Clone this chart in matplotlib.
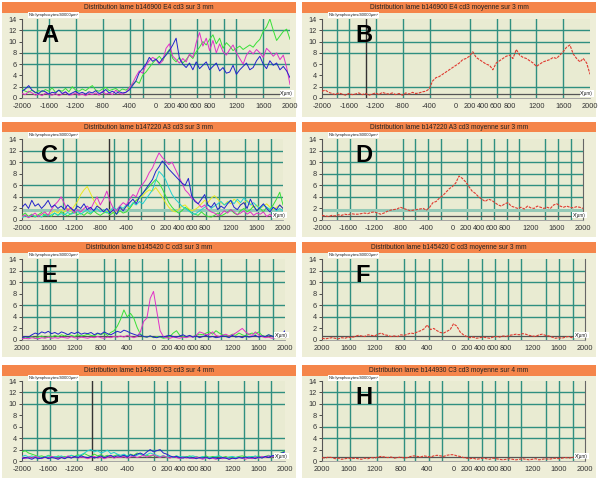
import numpy as np
import matplotlib
matplotlib.use("Agg")
import matplotlib.pyplot as plt
import matplotlib.transforms as mtransforms
from matplotlib.patches import Rectangle

plt.rcParams['font.family'] = ['Liberation Sans', 'DejaVu Sans']

W, H = 600, 478

#### Panel texts ####
titles = ["Distribution lame b146900 E4 cd3 sur 3 mm",
          "Distribution lame b146900 E4 cd3 moyenne sur 3 mm",
          "Distribution lame b147220 A3 cd3 sur 3 mm",
          "Distribution lame b147220 A3 cd3 moyenne sur 3 mm",
          "Distribution lame b145420 C cd3 sur 3 mm",
          "Distribution lame b145420 C cd3 moyenne sur 3 mm",
          "Distribution lame b144930 C3 cd3 sur 4 mm",
          "Distribution lame b144930 C3 cd3 moyenne sur 4 mm"]
letters = ["A", "B", "C", "D", "E", "F", "G", "H"]
ylab = "Nb lymphocytes/40000µm²"
xlab = "X(µm)"

xtick_vals = [-2000, -1600, -1200, -800, -400, 0, 200, 400, 600, 800, 1200, 1600, 2000]
xtick_neg = ["-2000", "-1600", "-1200", "-800", "-400", "0", "200", "400", "600", "800", "1200", "1600", "2000"]
xtick_pos = ["2000", "1600", "1200", "800", "400", "0", "200", "400", "600", "800", "1200", "1600", "2000"]
ytick_vals = [0, 2, 4, 6, 8, 10, 12, 14]

#### Series (sampled every 50 µm from -2000 to 2000) ####
A_blue = [1.2,1.6,2.2,1.4,1.0,0.8,1.3,1.1,0.7,1.0,
          0.9,1.4,0.8,1.1,0.6,0.9,1.2,0.8,1.0,0.7,
          1.1,0.9,1.3,0.8,1.0,1.5,0.9,1.2,0.8,1.1,
          0.9,1.0,1.4,2.2,3.0,4.5,5.2,6.0,7.2,6.5,
          6.9,6.2,7.0,7.6,8.4,9.4,10.6,7.0,6.0,5.4,
          6.2,5.0,6.4,5.2,5.8,6.4,5.0,5.6,6.2,4.8,
          5.4,4.4,4.6,5.8,4.2,5.0,5.6,6.2,5.0,5.4,
          6.6,7.4,6.0,5.2,6.6,5.8,6.2,5.0,5.6,4.8,3.6]
A_mag = [0.8,0.6,1.2,0.9,0.5,0.7,0.4,0.9,0.6,0.5,
         0.8,0.4,0.7,1.0,0.5,0.6,0.9,0.5,0.7,0.4,
         0.8,0.6,0.9,0.5,1.2,0.7,0.9,0.6,1.4,0.8,
         0.7,1.0,1.8,2.6,3.8,4.8,4.4,5.8,6.6,7.2,
         6.8,6.0,6.6,8.8,9.6,7.4,6.8,6.2,7.0,6.4,
         7.8,7.2,9.8,11.6,9.2,10.6,8.4,10.2,8.0,9.6,
         8.2,7.6,8.6,9.4,8.0,7.0,6.0,7.6,8.4,7.8,
         8.6,8.0,7.2,8.8,8.2,7.4,8.0,6.8,7.6,5.4,2.4]
A_green = [1.6,1.2,1.0,1.4,0.9,1.3,1.1,1.5,1.2,1.8,
           1.0,1.4,1.2,1.7,1.1,2.0,1.4,1.2,1.6,1.3,
           1.8,2.2,1.4,1.2,1.6,1.9,1.3,1.5,1.7,1.2,
           1.6,1.4,1.8,2.4,3.0,2.6,4.0,4.6,5.4,6.2,
           6.8,7.4,6.6,7.8,8.6,7.0,6.4,7.2,6.2,6.8,
           7.6,7.0,8.2,9.0,10.0,9.4,10.4,11.2,9.6,10.6,
           8.8,9.8,9.2,8.4,8.8,9.2,8.6,9.0,9.4,9.0,
           9.8,10.4,11.8,12.6,14.0,12.0,10.2,11.0,11.8,12.2,10.4]

B_red = [1.2,1.4,1.0,0.8,0.6,0.9,0.7,0.5,0.8,0.6,
         0.7,0.9,0.6,0.8,0.5,0.7,0.9,0.6,1.0,0.8,
         0.7,0.9,0.6,0.8,0.5,0.9,0.7,1.0,0.8,0.9,
         1.1,1.2,1.6,3.0,3.6,3.8,4.2,4.6,5.0,5.4,
         5.8,6.2,6.8,7.0,7.4,8.2,7.2,6.8,6.4,6.0,
         5.8,5.0,6.2,6.6,7.0,7.4,7.6,7.0,8.6,7.6,
         7.2,7.0,6.6,6.2,5.6,6.0,6.4,6.6,6.8,7.2,
         7.0,7.6,8.2,9.0,9.4,7.8,7.0,6.4,7.0,6.2,4.2]

C_blue = [2.2,2.8,2.0,3.4,2.4,2.8,2.0,2.6,3.4,2.2,2.6,2.0,2.4,
          1.8,2.6,2.0,1.6,2.4,2.0,2.8,1.8,2.2,1.6,2.4,2.0,
          1.4,2.0,1.2,1.8,1.0,2.2,1.6,2.4,3.0,3.6,2.8,
          4.0,4.6,5.4,6.2,7.0,8.4,9.2,10.2,9.6,8.8,
          8.2,7.6,7.0,6.4,6.0,7.2,4.2,
          3.2,2.8,3.6,4.4,2.6,2.2,3.0,1.8,2.4,2.0,2.8,3.4,2.2,1.8,
          2.6,3.0,2.0,3.6,2.4,1.6,2.2,2.8,2.0,1.4,2.2,1.8,2.6,2.0]
C_mag = [0.6,0.9,0.4,0.8,1.2,0.6,1.0,1.4,0.8,1.8,2.6,3.2,
         4.0,2.8,1.6,2.2,1.2,1.8,1.4,2.0,2.4,
         1.8,3.0,4.0,2.6,3.6,5.0,3.2,2.0,1.6,
         2.4,3.0,2.6,3.6,4.4,4.0,5.4,6.2,7.0,8.2,9.0,
         10.4,11.6,10.8,10.2,9.6,10.0,8.8,7.6,6.4,5.2,
         4.6,3.8,3.4,2.8,2.2,2.6,1.8,1.4,1.2,0.8,1.0,1.6,1.2,1.8,1.4,
         0.9,1.2,1.6,1.0,1.4,0.8,1.2,1.0,1.4,0.6,1.0,0.4,0.8,1.2,0.8]
C_green = [0.8,1.2,0.6,1.0,0.5,0.9,1.3,0.7,1.0,0.6,1.2,0.8,1.4,1.0,0.7,1.1,
           1.5,0.9,1.2,0.8,1.3,1.0,1.6,1.1,0.8,1.2,1.4,0.9,1.3,1.0,1.6,1.2,
           1.4,2.0,2.8,3.4,3.8,4.6,5.2,5.8,6.4,
           7.0,6.4,5.4,4.2,3.0,2.2,1.6,1.2,
           1.6,2.2,1.8,1.2,1.0,0.8,1.4,0.9,0.6,0.5,0.8,1.2,0.7,1.0,1.4,1.8,
           1.2,0.9,1.6,2.0,1.4,1.8,2.4,1.6,2.0,1.4,2.2,1.8,2.6,3.6,4.8,2.6]
C_yellow = [0.5,0.8,0.6,1.0,0.7,0.9,0.6,1.1,0.8,1.2,1.6,1.2,1.8,1.4,2.0,1.6,
            2.4,3.2,4.4,5.2,5.8,4.6,3.4,2.6,
            2.0,1.6,1.4,1.8,1.2,1.6,2.2,1.8,2.4,2.0,2.8,3.4,
            3.8,4.2,4.8,5.2,5.0,5.6,4.8,4.0,3.0,
            2.2,1.6,1.4,1.8,2.4,2.6,2.0,1.6,1.8,2.2,2.8,3.4,3.0,3.8,4.2,3.6,3.0,2.6,
            3.2,2.8,3.6,3.2,2.6,3.0,3.4,2.8,2.2,2.6,2.0,2.4,2.8,2.2,1.8,2.2,2.6,2.0]
C_cyan = [0.4,0.7,0.5,0.9,0.6,0.8,0.5,1.0,0.7,0.9,1.2,0.8,1.1,0.9,1.3,1.0,
          1.2,1.6,1.0,1.4,1.8,1.2,1.6,2.0,1.4,1.8,1.2,1.6,2.2,1.8,2.4,2.0,
          2.6,2.2,3.0,2.6,3.2,2.8,3.6,4.4,5.2,
          6.8,8.4,7.8,7.0,5.6,4.4,3.6,3.0,
          2.4,2.0,1.6,1.2,1.0,1.4,1.8,2.2,2.6,2.0,2.4,2.8,3.2,2.6,3.0,3.4,
          2.8,3.6,3.0,3.8,3.2,2.6,3.0,2.4,2.0,2.6,2.2,1.8,2.2,1.6,2.0,1.6]

D_red = [0.8,0.7,0.6,0.8,0.7,0.9,0.8,1.0,0.9,1.1,
         1.0,1.0,1.1,1.2,1.1,1.3,1.4,1.2,1.0,1.2,
         1.5,1.7,1.8,1.9,2.2,2.0,1.8,1.6,1.7,1.8,
         1.9,2.0,1.7,2.2,3.0,3.2,3.8,4.2,4.8,5.4,
         5.8,6.4,7.6,7.2,6.6,5.8,5.0,4.6,4.0,3.6,
         3.2,3.6,3.4,3.0,2.6,2.4,2.8,3.0,2.4,2.2,
         2.0,2.2,1.9,2.4,2.1,2.0,2.4,2.2,2.0,2.2,
         2.0,2.6,2.8,2.4,2.2,2.4,2.2,2.1,2.3,2.2,2.0]

E_blue = [0.4,0.6,0.5,0.9,1.2,1.0,1.4,1.2,1.5,1.1,
          1.3,1.0,1.4,1.2,0.9,1.3,1.1,1.4,1.0,1.2,
          1.1,1.3,0.9,1.2,1.0,1.4,1.1,0.9,1.2,1.5,
          1.3,1.7,1.5,1.2,1.0,0.8,0.9,0.6,0.5,0.7,
          0.5,0.4,0.6,0.5,0.7,0.8,0.6,0.5,0.7,0.9,
          0.6,0.8,0.5,0.7,0.4,0.6,0.8,0.5,0.6,0.4,
          0.5,0.7,0.6,0.4,0.8,0.5,0.6,0.4,0.7,0.5,
          0.6,0.8,0.5,0.7,0.6,0.9,0.7,0.5,0.8,1.0,1.6]
E_green = [0.3,0.5,0.4,0.6,0.3,0.5,0.7,0.4,0.6,0.5,
           0.8,0.6,0.9,0.7,1.0,0.8,0.6,0.9,0.7,0.8,
           1.0,0.8,0.7,1.1,0.9,1.2,0.8,1.3,1.6,2.4,
           3.6,5.2,4.0,4.6,3.8,2.2,1.0,0.6,0.5,0.7,
           0.4,0.6,0.5,0.3,0.4,0.6,1.2,1.6,0.8,0.6,
           0.5,0.7,0.6,0.8,1.0,0.9,1.2,1.4,1.0,1.6,
           1.2,0.9,0.8,0.7,1.0,0.8,1.2,0.9,0.7,1.0,
           1.2,1.0,1.4,0.8,0.6,0.9,0.7,0.5,0.6,0.4,0.5]
E_mag = [0.2,0.3,0.2,0.4,0.3,0.2,0.4,0.3,0.5,0.3,
         0.4,0.3,0.5,0.4,0.3,0.6,0.4,0.3,0.5,0.4,
         0.3,0.5,0.4,0.6,0.4,0.3,0.5,0.4,0.6,0.5,
         0.7,0.5,0.8,0.6,0.4,0.6,1.4,3.2,3.8,7.2,
         8.4,5.0,1.6,0.6,0.4,0.3,0.5,0.4,0.3,0.5,
         0.4,0.6,0.5,0.8,1.4,1.2,0.9,1.0,1.4,0.8,
         0.6,0.8,1.0,0.7,0.9,1.2,1.6,2.0,1.4,1.0,
         0.8,1.4,0.9,0.6,0.4,0.5,0.3,0.4,0.6,0.5,0.4]

F_red = [0.3,0.2,0.3,0.4,0.3,0.2,0.4,0.3,0.5,0.4,
         0.6,0.8,0.7,0.6,0.9,0.8,0.7,1.0,1.2,0.9,
         0.8,0.6,0.7,0.6,0.9,0.8,1.0,1.2,1.1,1.4,
         1.6,1.9,2.6,1.8,2.0,1.6,1.3,1.2,1.5,1.8,
         2.8,2.4,1.4,0.9,0.6,0.4,0.5,0.3,0.4,0.5,
         0.4,0.3,0.5,0.6,0.5,0.7,0.6,0.8,0.9,1.0,
         0.9,1.1,1.0,0.8,0.7,0.6,0.9,1.0,0.8,0.7,
         0.5,0.3,0.4,0.3,0.5,0.6,0.4,0.5,0.7,0.5,0.6]

G_green = [1.6,1.8,1.4,1.2,1.0,0.8,0.9,0.7,1.0,0.8,
           0.6,0.9,0.7,0.8,0.6,1.0,0.8,1.1,0.9,1.3,
           1.0,0.8,1.2,0.9,1.1,0.8,1.0,0.7,0.9,1.1,
           0.8,1.0,0.9,1.2,1.0,1.4,1.2,0.9,1.0,0.8,
           1.0,0.8,0.7,0.9,0.6,0.8,0.7,0.9,0.6,0.8,
           0.7,0.9,0.6,0.8,0.5,0.7,0.9,0.6,0.8,0.7,
           0.9,0.6,0.8,0.5,0.7,0.6,0.8,0.9,0.7,0.6,
           0.8,0.7,0.9,0.6,0.8,1.0,0.7,0.9,1.2,1.5,1.8]
G_cyan = [0.8,1.0,0.7,0.9,0.6,0.8,0.5,0.7,0.9,0.6,
          0.8,0.7,0.9,0.6,0.8,1.0,0.7,0.9,1.1,1.4,
          1.8,2.0,1.6,1.8,1.4,1.6,1.9,1.3,1.5,1.2,
          1.0,1.2,0.9,1.1,0.8,1.0,1.3,0.9,1.1,1.4,
          1.2,1.0,0.8,0.9,0.7,0.8,0.6,0.9,0.7,0.8,
          0.6,0.8,0.9,0.7,0.6,0.8,0.5,0.7,0.6,0.8,
          0.9,0.6,0.5,0.7,0.8,0.6,0.7,0.5,0.6,0.8,
          0.7,0.9,0.6,0.8,0.7,0.9,0.8,1.0,1.1,0.9,1.2]
G_blue = [0.4,0.6,0.5,0.3,0.6,0.4,0.5,0.7,0.4,0.6,
          0.5,0.3,0.6,0.4,0.7,0.5,0.8,0.6,0.9,0.7,
          0.6,0.8,0.5,0.7,0.9,0.6,0.8,1.0,0.7,0.9,
          0.8,1.0,0.7,1.1,0.9,1.2,1.4,1.1,1.6,2.0,
          1.6,1.8,2.0,1.4,1.2,0.9,0.7,0.8,0.6,0.5,
          0.7,0.5,0.6,0.4,0.6,0.5,0.7,0.4,0.6,0.5,
          0.4,0.6,0.5,0.3,0.5,0.4,0.6,0.5,0.7,0.5,
          0.6,0.4,0.7,0.5,0.8,0.6,0.9,1.0,1.2,1.4,1.6]
G_mag = [0.6,0.4,0.7,0.5,0.8,0.6,0.4,0.7,0.5,0.8,
         0.6,0.4,0.7,0.5,0.9,0.6,0.8,0.5,0.7,0.6,
         0.4,0.6,0.8,0.5,0.7,0.4,0.6,0.8,0.5,0.7,
         0.6,0.8,0.5,0.7,0.9,0.6,0.8,1.0,0.7,0.9,
         1.1,0.8,0.6,0.9,0.7,0.5,0.8,0.6,0.4,0.7,
         0.5,0.6,0.4,0.7,0.5,0.3,0.6,0.4,0.5,0.3,
         0.5,0.4,0.6,0.3,0.5,0.4,0.6,0.5,0.3,0.6,
         0.4,0.7,0.5,0.8,0.6,0.9,0.7,1.0,0.8,1.2,1.0]

H_red = [0.6,0.5,0.7,0.6,0.4,0.5,0.3,0.4,0.5,0.4,
         0.5,0.4,0.3,0.5,0.4,0.6,0.5,0.7,0.8,0.7,
         0.6,0.7,0.5,0.6,0.7,0.5,0.6,0.8,0.9,0.8,
         0.7,0.9,0.8,0.7,0.9,1.0,0.9,0.8,1.0,1.1,
         1.1,0.9,0.8,0.6,0.5,0.4,0.5,0.3,0.4,0.5,
         0.4,0.3,0.5,0.4,0.3,0.2,0.3,0.4,0.3,0.2,
         0.3,0.4,0.3,0.2,0.3,0.4,0.2,0.3,0.4,0.3,
         0.4,0.5,0.4,0.5,0.6,0.5,0.6,0.7,0.6,0.8,0.9]

#### Grid lines seen in each panel ####
vgrid_A = [-1780, -1590, -1190, -790, -390, -190, 210, 610, 810, 1010, 1200, 1600]
vgrid_B = [-1780, -1590, -1190, -790, -390, 210, 610, 810, 1200, 1600]
vgrid_C = [-1370, -1170, -590, -380, -180, 170, 410, 610, 820, 1020, 1410, 1610, 1820]
vgrid_D = [-1770, -1570, -1170, -760, -580, -380, -170, 220, 430, 630, 830, 1020, 1410, 1610, 1820]
vgrid_G = [-1770, -1570, -1170, -800, -390, 0, 200, 400, 780, 980, 1380, 1590, 1790]
hgrid_A = [2, 6, 8, 12]
hgrid_B = [2, 8, 10, 12]
hgrid_C = [4, 6, 10, 12]
hgrid_D = [4, 6, 8, 10, 12]
hgrid_E = [4, 6, 10, 12]
hgrid_G = [2, 4, 10, 12]

BLUE, MAG, GREEN, YEL, CYAN, RED = '#2222cc', '#e030c8', '#38e038', '#e8e820', '#20d0d0', '#e03a30'
TEAL = '#2f8f80'
ORANGE = '#f5854a'
BEIGE = '#eeeed8'
PLOTBG = '#e9ebd2'

fig = plt.figure(figsize=(6, 4.78), dpi=100)
fig.patch.set_facecolor('white')


def frect(x, y, w, h):
    return [x / W, 1 - (y + h) / H, w / W, h / H]


def add_rect(x, y, w, h, color):
    r = Rectangle((x / W, 1 - (y + h) / H), w / W, h / H, transform=fig.transFigure,
                  facecolor=color, edgecolor='none', zorder=0)
    fig.add_artist(r)


row_top = [0, 120, 240, 360]
plot_y = [(19, 98), (139, 220), (259, 340), (381, 461)]


def panel(k, series, colors, vgrid, hgrid, xlabels, axr, cursor=None, band=False, dashed=False, rspine=False):
    col, row = k % 2, k // 2
    px = 0 if col == 0 else 300
    ty = row_top[row] + (3 if row == 3 else 0)
    add_rect(px + 2, ty + 12, 294, 105, BEIGE)
    add_rect(px + 2, ty + 2, 294, 10.5, ORANGE)
    fig.text((px + 149) / W, 1 - (ty + 7.5) / H, titles[k], ha='center', va='center',
             fontsize=4.8, color='#222222')
    top, bot = plot_y[row]
    ax = fig.add_axes(frect(px + 22, top, axr - 22, bot - top))
    ax.set_facecolor(PLOTBG)
    ax.set_xlim(-2000, 2000)
    ax.set_ylim(0, 14)
    for v in vgrid:
        ax.axvline(v, color=TEAL, lw=1.0, zorder=1)
    for h in hgrid:
        ax.axhline(h, color=TEAL, lw=1.0, zorder=1)
    if band:
        ax.axhline(1.8, color='#93c9b6', lw=2.2, zorder=1)
    ax.axhline(0.75, color='#555555', lw=0.9, zorder=1)
    if cursor is not None:
        ax.axvline(cursor, color='#333333', lw=1.0, zorder=1)
    for y, c in zip(series, colors):
        x = np.linspace(-2000, 2000, len(y))
        if dashed:
            ax.plot(x, y, color=c, lw=0.8, ls=(0, (2.5, 1)), zorder=3)
        else:
            ax.plot(x, y, color=c, lw=0.7, zorder=3)
    ax.set_xticks(xtick_vals)
    ax.set_xticklabels(xlabels)
    ax.set_yticks(ytick_vals)
    ax.tick_params(axis='x', length=0, pad=3.5, labelsize=5.3, colors='#333333')
    ax.tick_params(axis='y', length=2.5, width=0.6, pad=1, labelsize=5.3, colors='#333333')
    for s in ['top', 'right']:
        ax.spines[s].set_visible(False)
    if rspine:
        ax.spines['right'].set_visible(True)
        ax.spines['right'].set_color('#666666')
    ax.spines['left'].set_color('#555555')
    ax.spines['bottom'].set_color('#999999')
    ax.spines['left'].set_linewidth(0.8)
    ax.spines['bottom'].set_linewidth(0.6)
    # small white label boxes
    fig.text((px + 29) / W, 1 - (ty + 15) / H, ylab, ha='left', va='center', fontsize=3.0,
             color='#222222', bbox=dict(facecolor='white', edgecolor='none', pad=0.6))
    trans = mtransforms.blended_transform_factory(ax.transAxes, ax.transData)
    ax.text(1.012, 0.85, xlab, transform=trans, ha='right', va='center', fontsize=3.3,
            color='#222222', clip_on=False, zorder=5,
            bbox=dict(facecolor='white', edgecolor='none', pad=0.6))
    lx = 41 if col == 0 else 55
    fig.text((px + lx) / W, 1 - (ty + 35) / H, letters[k], ha='left', va='center',
             fontsize=17, fontweight='bold', color='black')
    return ax


panel(0, [A_green, A_mag, A_blue], [GREEN, MAG, BLUE], vgrid_A, hgrid_A, xtick_neg, 290)
panel(1, [B_red], [RED], vgrid_B, hgrid_B, xtick_neg, 290, cursor=-1350, dashed=True)
panel(2, [C_yellow, C_green, C_cyan, C_mag, C_blue], [YEL, GREEN, CYAN, MAG, BLUE],
      vgrid_C, hgrid_C, xtick_neg, 283, cursor=-670, band=True)
panel(3, [D_red], [RED], vgrid_D, hgrid_D, xtick_neg, 283, band=True, dashed=True, rspine=True)
panel(4, [E_green, E_mag, E_blue], [GREEN, MAG, BLUE], vgrid_D, hgrid_E, xtick_pos, 285)
panel(5, [F_red], [RED], vgrid_D, hgrid_E, xtick_pos, 285, dashed=True, rspine=True)
panel(6, [G_green, G_cyan, G_mag, G_blue], [GREEN, CYAN, MAG, BLUE], vgrid_G, hgrid_G,
      xtick_neg, 285, cursor=-930)
panel(7, [H_red], [RED], vgrid_D, hgrid_E, xtick_pos, 285, dashed=True, rspine=True)

fig.savefig("out.png", dpi=100, facecolor='white')
